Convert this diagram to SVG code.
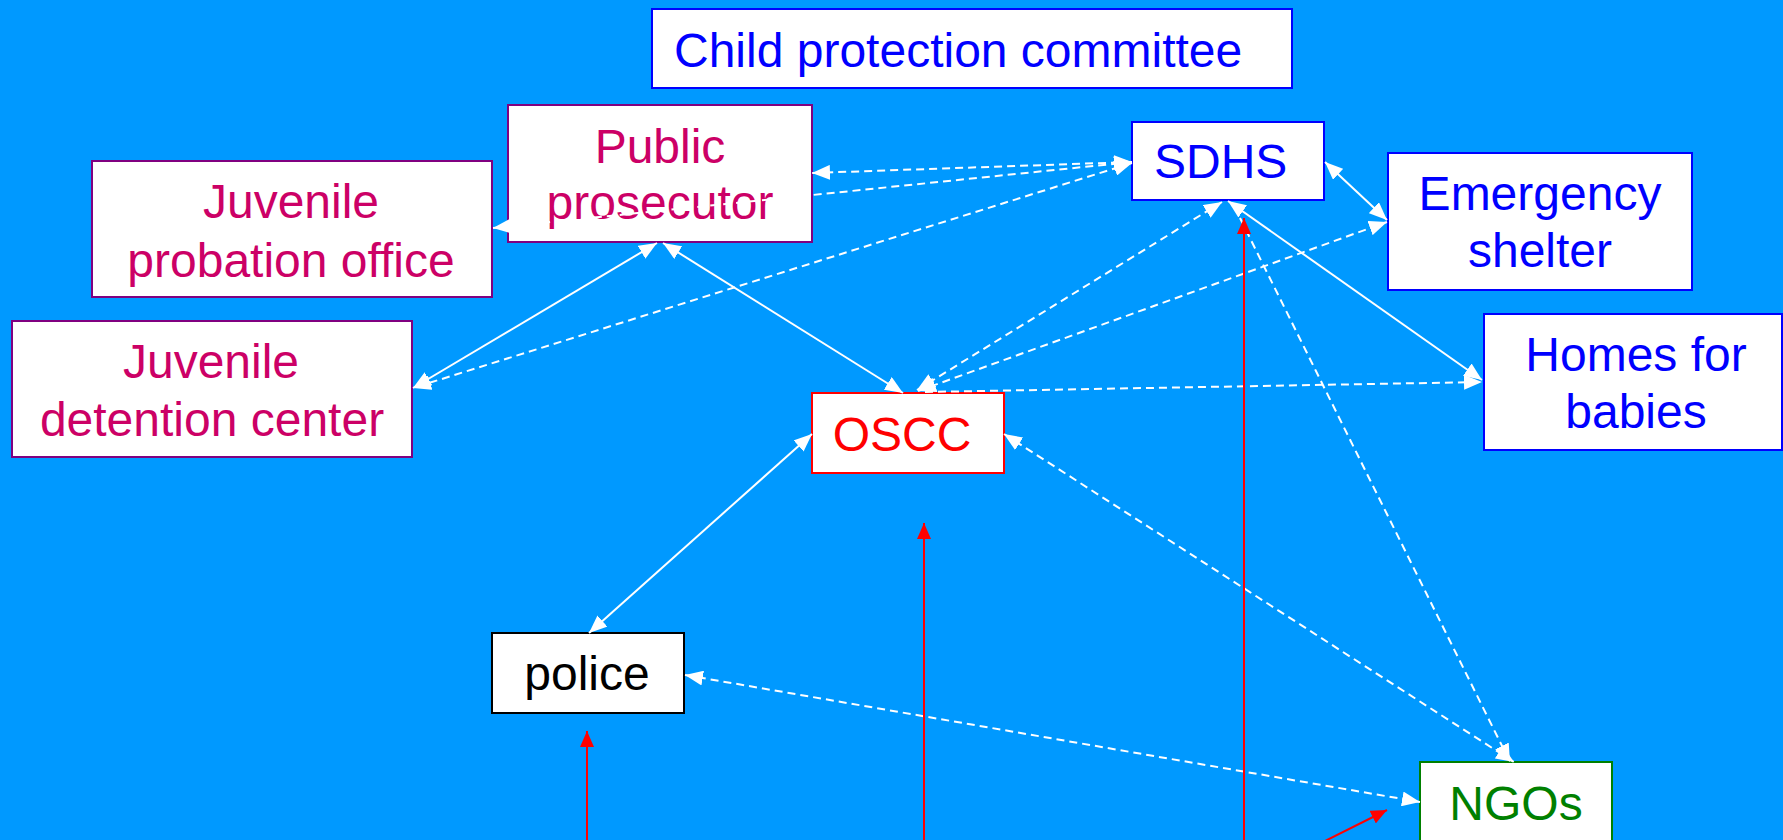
<svg xmlns="http://www.w3.org/2000/svg" width="1783" height="840" viewBox="0 0 1783 840">
  <defs>
    <style>
      .box { fill: #ffffff; stroke-width: 2; }
      .lbl { font-family: "Liberation Sans", Arial, sans-serif; font-size: 48px; }
      .mid { text-anchor: middle; }
      .link { stroke: #ffffff; stroke-width: 2; fill: none; }
      .dash { stroke-dasharray: 8 5; }
      .two { marker-start: url(#wh); marker-end: url(#wh); }
      .one { marker-end: url(#wh); }
      .red { stroke: #ff0000; stroke-width: 2; fill: none; marker-end: url(#rh); }
    </style>
    <marker id="wh" viewBox="0 0 18 15" refX="18" refY="7.5" markerWidth="18" markerHeight="15" markerUnits="userSpaceOnUse" orient="auto-start-reverse">
      <path d="M0,0 L18,7.5 L0,15 Z" fill="#ffffff"/>
    </marker>
    <marker id="rh" viewBox="0 0 16 14" refX="16" refY="7" markerWidth="16" markerHeight="14" markerUnits="userSpaceOnUse" orient="auto">
      <path d="M0,0 L16,7 L0,14 Z" fill="#ff0000"/>
    </marker>
  </defs>

  <rect width="1783" height="840" fill="#0099ff"/>

  <g id="child-protection-committee">
    <rect class="box" x="652" y="9" width="640" height="79" stroke="#0000ff"/>
    <text class="lbl" x="674" y="67" fill="#0000ff">Child protection committee</text>
  </g>

  <g id="public-prosecutor">
    <rect class="box" x="508" y="105" width="304" height="137" stroke="#800080"/>
    <text class="lbl mid" x="660" y="163" fill="#cc0066">Public</text>
    <text class="lbl mid" x="660" y="219" fill="#cc0066">prosecutor</text>
  </g>

  <g id="juvenile-probation-office">
    <rect class="box" x="92" y="161" width="400" height="136" stroke="#800080"/>
    <text class="lbl mid" x="291" y="218" fill="#cc0066">Juvenile</text>
    <text class="lbl mid" x="291" y="277" fill="#cc0066">probation office</text>
  </g>

  <g id="juvenile-detention-center">
    <rect class="box" x="12" y="321" width="400" height="136" stroke="#800080"/>
    <text class="lbl mid" x="211" y="378" fill="#cc0066">Juvenile</text>
    <text class="lbl mid" x="212" y="436" fill="#cc0066">detention center</text>
  </g>

  <g id="sdhs">
    <rect class="box" x="1132" y="122" width="192" height="78" stroke="#0000ff"/>
    <text class="lbl" x="1154" y="178" fill="#0000ff">SDHS</text>
  </g>

  <g id="emergency-shelter">
    <rect class="box" x="1388" y="153" width="304" height="137" stroke="#0000ff"/>
    <text class="lbl mid" x="1540" y="210" fill="#0000ff">Emergency</text>
    <text class="lbl mid" x="1540" y="267" fill="#0000ff">shelter</text>
  </g>

  <g id="homes-for-babies">
    <rect class="box" x="1484" y="314" width="298" height="136" stroke="#0000ff"/>
    <text class="lbl mid" x="1636" y="371" fill="#0000ff">Homes for</text>
    <text class="lbl mid" x="1636" y="428" fill="#0000ff">babies</text>
  </g>

  <g id="oscc">
    <rect class="box" x="812" y="393" width="192" height="80" stroke="#ff0000"/>
    <text class="lbl mid" x="902" y="451" fill="#ff0000">OSCC</text>
  </g>

  <g id="police">
    <rect class="box" x="492" y="633" width="192" height="80" stroke="#000000" stroke-width="2.5"/>
    <text class="lbl mid" x="587" y="690" fill="#000000">police</text>
  </g>

  <g id="ngos">
    <rect class="box" x="1420" y="762" width="192" height="84" stroke="#008000"/>
    <text class="lbl mid" x="1516" y="820" fill="#008000">NGOs</text>
  </g>

  <g id="connectors">
    <!-- dashed links -->
    <line class="link dash two" x1="1132" y1="162" x2="812" y2="173"/>
    <line class="link dash two" x1="1132" y1="162" x2="493" y2="228"/>
    <line class="link dash two" x1="1132" y1="163" x2="413" y2="388"/>
    <line class="link dash two" x1="917" y1="390" x2="1222" y2="202"/>
    <line class="link dash two" x1="918" y1="391" x2="1387" y2="222"/>
    <line class="link dash one" x1="925" y1="392" x2="1482" y2="382"/>
    <line class="link dash two" x1="1004" y1="434" x2="1514" y2="762"/>
    <line class="link dash one" x1="1240" y1="218" x2="1510" y2="762"/>
    <line class="link dash two" x1="685" y1="675" x2="1420" y2="802"/>

    <!-- solid links -->
    <line class="link two" x1="657" y1="243" x2="413" y2="388"/>
    <line class="link two" x1="663" y1="243" x2="903" y2="393"/>
    <line class="link two" x1="1228" y1="201" x2="1482" y2="380"/>
    <line class="link two" x1="1325" y1="162" x2="1387" y2="220"/>
    <line class="link two" x1="589" y1="633" x2="812" y2="434"/>

    <!-- red incoming arrows -->
    <line class="red" x1="587" y1="845" x2="587" y2="731"/>
    <line class="red" x1="924" y1="845" x2="924" y2="523"/>
    <line class="red" x1="1244" y1="845" x2="1244" y2="218"/>
    <line class="red" x1="1317" y1="845" x2="1387" y2="810"/>
  </g>
</svg>
